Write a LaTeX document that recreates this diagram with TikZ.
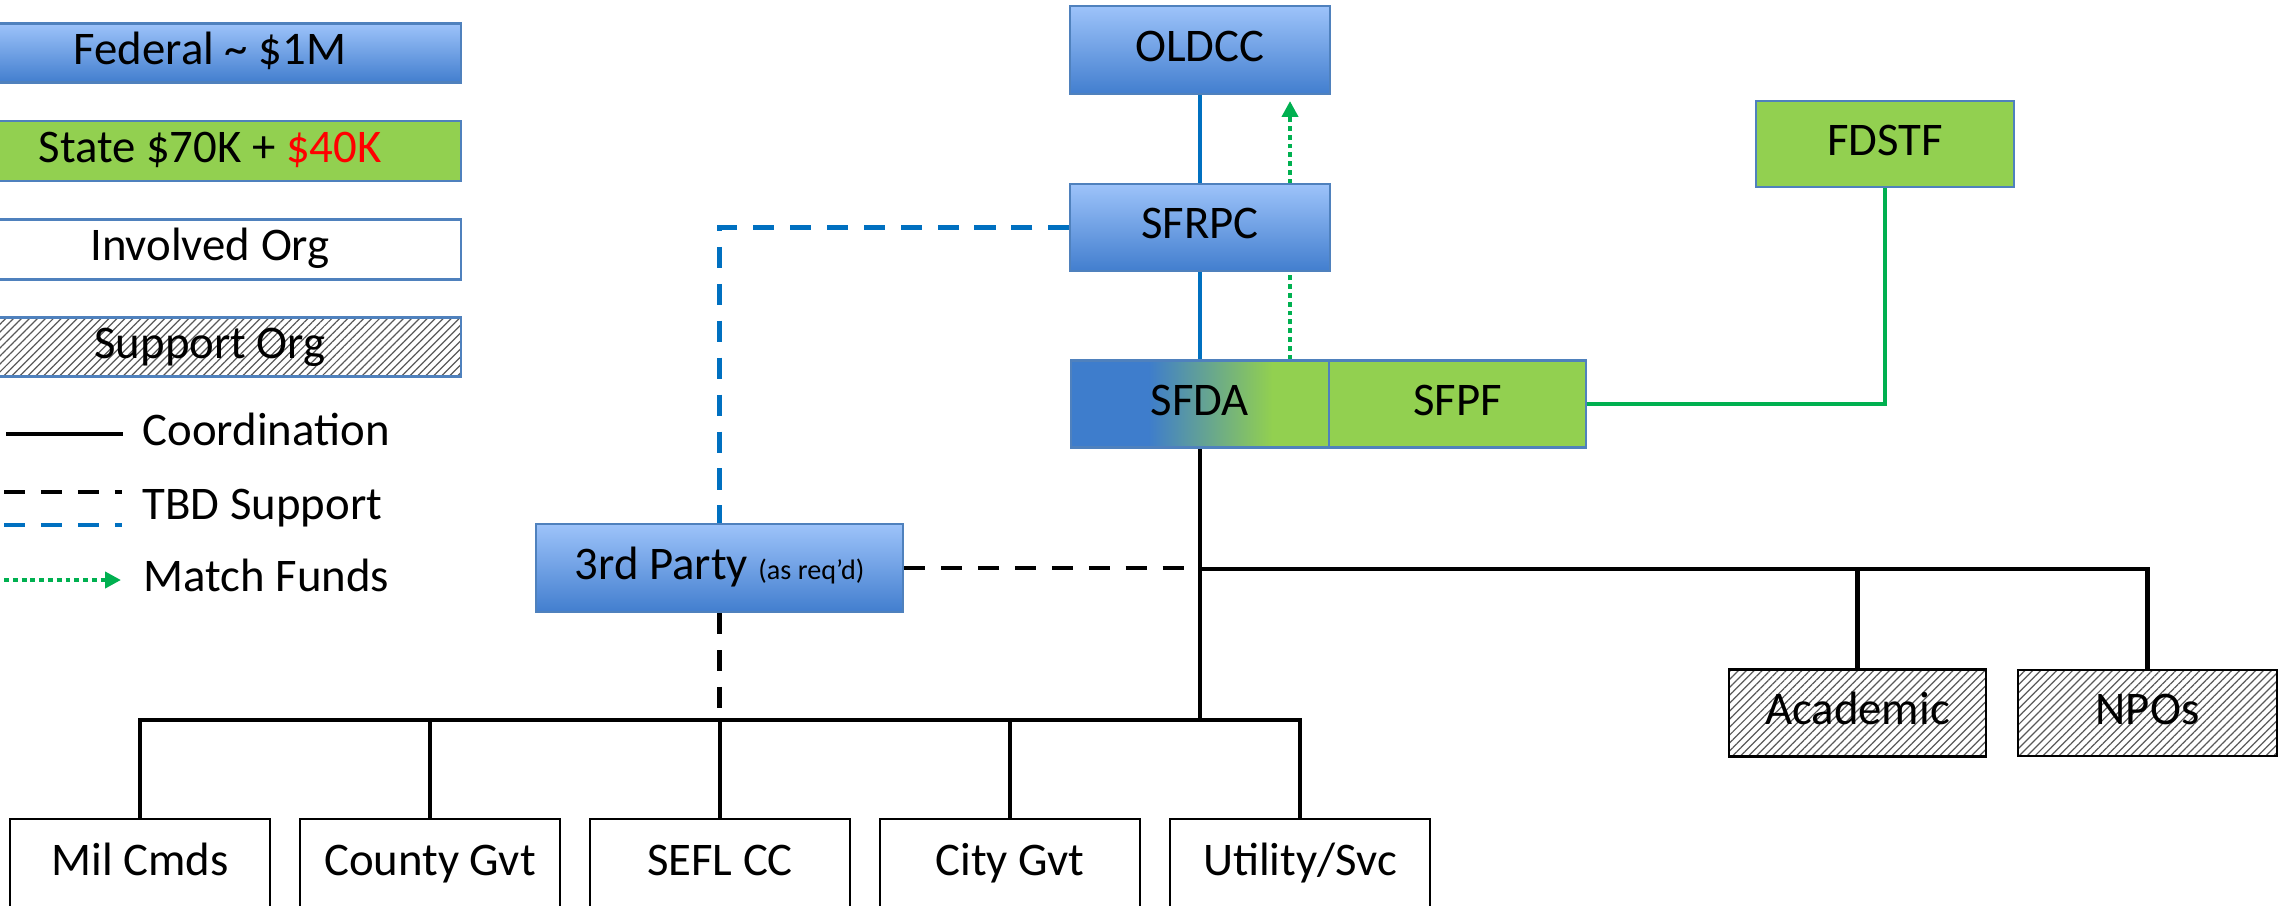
\documentclass[tikz,border=0pt]{standalone}
\usepackage{fontspec}
\setmainfont{Carlito}
\usetikzlibrary{arrows.meta,patterns.meta,backgrounds,calc}

\definecolor{fedtop}{RGB}{157,195,250}
\definecolor{fedbot}{RGB}{66,126,206}
\definecolor{fedblue}{RGB}{62,125,204}
\definecolor{stategreen}{RGB}{146,208,80}
\definecolor{boxline}{RGB}{79,129,189}
\definecolor{linkblue}{RGB}{0,112,192}
\definecolor{fundgreen}{RGB}{0,176,80}

\pgfdeclarehorizontalshading{sfdashade}{100bp}{color(0bp)=(fedblue); color(40bp)=(fedblue); color(64bp)=(stategreen); color(100bp)=(stategreen)}

\tikzset{
  every node/.style={text height=0.63em, text depth=0pt},
  fedbox/.style={draw=boxline, line width=0.6pt, top color=fedtop, bottom color=fedbot, inner sep=0pt},
  statebox/.style={draw=boxline, line width=0.6pt, fill=stategreen, inner sep=0pt},
  orgbox/.style={draw=black, line width=0.6pt, fill=white, inner sep=0pt},
  supbox/.style={draw=black, line width=0.6pt, pattern={Lines[angle=45,distance=1.6pt,line width=0.35pt]}, pattern color=black!65, inner sep=0pt},
  coordline/.style={line width=1.4pt, black},
  tbdblack/.style={line width=1.3pt, black, dash pattern=on 6pt off 4.5pt},
  tbdblue/.style={line width=1.3pt, linkblue, dash pattern=on 6pt off 4.5pt},
  linkline/.style={line width=1.1pt, linkblue},
  fundline/.style={line width=1.1pt, fundgreen},
  matchline/.style={line width=1.3pt, fundgreen, dash pattern=on 1.4pt off 1.1pt, -{Triangle[length=4.5pt,width=4.5pt]}},
}

\begin{document}
\begin{tikzpicture}[x=0.01cm, y=-0.01cm, font=\fontsize{13.3}{16}\selectfont]
    \useasboundingbox (0,0) rectangle (2284,905);
    \clip (0,0) rectangle (2284,905);

    % --- Legend ---
    \node[fedbox, minimum width=5.02cm, minimum height=0.59cm] (legfed) at (210,53) {Federal \textasciitilde{} \$1M};
    \node[statebox, minimum width=5.02cm, minimum height=0.60cm] (legstate) at (210,151) {State \$70K + \textcolor{red}{\$40K}};
    \node[draw=boxline, line width=0.6pt, fill=white, minimum width=5.02cm, minimum height=0.60cm] (leginv) at (210,249.5) {Involved Org};
    \node[supbox, draw=boxline, minimum width=5.02cm, minimum height=0.59cm] (legsup) at (210,347) {Support Org};
    \draw[coordline] (6,434) -- (123,434);
    \node[anchor=west, inner sep=0pt] (legcoord) at (142,434) {Coordination};
    \draw[tbdblack] (4,492) -- (122,492);
    \draw[tbdblue] (4,525) -- (122,525);
    \node[anchor=west, inner sep=0pt] (legtbd) at (142,508) {TBD Support};
    \draw[matchline] (4,580) -- (121,580);
    \node[anchor=west, inner sep=0pt] (legmatch) at (143,580) {Match Funds};

    % --- Funded orgs ---
    \node[fedbox, minimum width=2.59cm, minimum height=0.88cm] (oldcc) at (1200,50) {OLDCC};
    \node[fedbox, minimum width=2.59cm, minimum height=0.87cm] (sfrpc) at (1200,227.5) {SFRPC};
    \node[draw=boxline, line width=0.6pt, shade, shading=sfdashade, minimum width=2.58cm, minimum height=0.87cm] (sfda) at (1200,404) {SFDA};
    \node[statebox, minimum width=2.57cm, minimum height=0.87cm] (sfpf) at (1457.5,404) {SFPF};
    \node[statebox, minimum width=2.58cm, minimum height=0.86cm] (fdstf) at (1885,144) {FDSTF};
    \node[fedbox, minimum width=3.67cm, minimum height=0.88cm] (party) at (719.5,568) {3rd Party {\fontsize{8}{10}\selectfont (as req'd)}};

    % --- Support and involved orgs ---
    \node[supbox, minimum width=2.57cm, minimum height=0.87cm] (academic) at (1857.5,713) {Academic};
    \node[supbox, minimum width=2.59cm, minimum height=0.86cm] (npos) at (2147.5,713) {NPOs};
    \foreach \n/\x/\t in {mil/140/Mil Cmds, county/430/County Gvt, sefl/720/SEFL CC, city/1010/City Gvt, util/1300/{Utility/Svc}}
        \node[orgbox, minimum width=2.59cm, minimum height=0.90cm] (\n) at (\x,864) {\t};

    \coordinate (lbus) at (0,720);
    \coordinate (rbus) at (0,569);
    \coordinate (mftip) at (1290,101);

    \begin{pgfonlayer}{background}
        % Federal chain
        \draw[linkline] (oldcc) -- (sfrpc);
        \draw[linkline] (sfrpc) -- (sfda);
        \draw[matchline] (sfda.north -| mftip) -- (mftip);
        % State link
        \draw[fundline] (sfpf.east) -| (fdstf.south);
        % Coordination
        \draw[coordline] (sfda.south) -- (sfda.south |- lbus);
        \draw[coordline] (mil.north) |- (util.north |- lbus) -- (util.north);
        \foreach \n in {county,sefl,city}
            \draw[coordline] (\n.north) -- (\n.north |- lbus);
        \draw[coordline] (sfda.south |- rbus) -| (npos.north);
        \draw[coordline] (academic.north) -- (academic.north |- rbus);
        % TBD support
        \draw[tbdblue] (sfrpc.west) -| (party.north);
        \draw[tbdblack] (party.east) -- (sfda.south |- party.east);
        \draw[tbdblack] (party.south) -- (party.south |- lbus);
    \end{pgfonlayer}
\end{tikzpicture}
\end{document}
